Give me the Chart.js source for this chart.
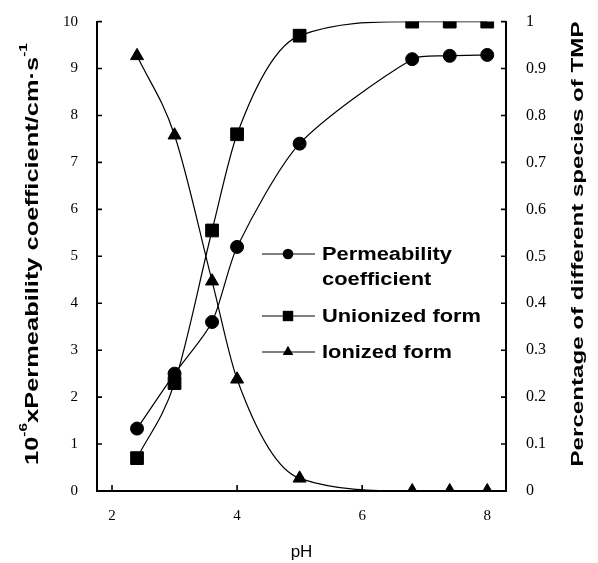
<!DOCTYPE html>
<html>
<head>
<meta charset="utf-8">
<script src="https://cdn.jsdelivr.net/npm/chart.js@4.4.0/dist/chart.umd.min.js"></script>
<style>
  html, body { margin: 0; padding: 0; background: #fff; }
  #wrap { width: 598px; height: 563px; position: relative; }
</style>
</head>
<body>
<div id="wrap"><canvas id="chart"></canvas></div>
<script>
const pH = [2.4, 3.0, 3.6, 4.0, 5.0, 6.8, 7.4, 8.0];
const permeability = [1.33, 2.5, 3.6, 5.2, 7.4, 9.2, 9.27, 9.29];
const unionized = [0.07, 0.23, 0.555, 0.76, 0.97, 1.0, 1.0, 1.0];
const ionized = [0.927, 0.758, 0.447, 0.238, 0.027, 0, 0, 0];
const xTicks = [2, 4, 6, 8];
const legendLabels = [['Permeability', 'coefficient'], ['Unionized form'], ['Ionized form']];
const leftTitle = [['10', false], ['-6', true], ['xPermeability coefficient/cm\u00b7s', false], ['-1', true]];
const rightTitle = [['Percentage of different species of TMP', false]];

const SANS = '"Liberation Sans", Arial, sans-serif';
const SERIF = '"Liberation Serif", "Times New Roman", serif';

function points(ys) {
  return pH.map((x, i) => ({ x: x, y: ys[i] }));
}

// rotated axis title, stretched along its length to fit
function drawRotated(ctx, parts, cx, cy, length, size) {
  const big = `bold ${size}px ${SANS}`;
  const small = `bold ${Math.round(size * 0.62)}px ${SANS}`;
  ctx.save();
  ctx.translate(cx, cy);
  ctx.rotate(-Math.PI / 2);
  let total = 0;
  parts.forEach(([t, sup]) => { ctx.font = sup ? small : big; total += ctx.measureText(t).width; });
  ctx.scale(length / total, 1);
  ctx.textBaseline = 'alphabetic';
  ctx.fillStyle = '#000';
  let px = -total / 2;
  parts.forEach(([t, sup]) => {
    ctx.font = sup ? small : big;
    ctx.fillText(t, px, sup ? -size * 0.3 : size * 0.36);
    px += ctx.measureText(t).width;
  });
  ctx.restore();
}

function marker(ctx, style, x, y, r) {
  ctx.beginPath();
  if (style === 'circle') {
    ctx.arc(x, y, r, 0, Math.PI * 2);
  } else if (style === 'rect') {
    const s = r * Math.SQRT1_2;
    ctx.rect(x - s, y - s, 2 * s, 2 * s);
  } else {
    ctx.moveTo(x, y - r);
    ctx.lineTo(x + r * 0.866, y + r * 0.5);
    ctx.lineTo(x - r * 0.866, y + r * 0.5);
    ctx.closePath();
  }
  ctx.fill();
}

const decorations = {
  id: 'decorations',
  afterDraw(chart) {
    const ctx = chart.ctx;
    const area = chart.chartArea;
    const sx = chart.scales.x, sy = chart.scales.y, sy1 = chart.scales.y1;
    ctx.save();
    ctx.strokeStyle = '#000';
    ctx.fillStyle = '#000';
    ctx.lineWidth = 1.6;

    // inward tick marks
    ctx.beginPath();
    sx.ticks.forEach(t => {
      const p = sx.getPixelForValue(t.value);
      ctx.moveTo(p, area.bottom); ctx.lineTo(p, area.bottom - 6);
    });
    sy.ticks.forEach(t => {
      const p = sy.getPixelForValue(t.value);
      ctx.moveTo(area.left, p); ctx.lineTo(area.left + 5, p);
    });
    sy1.ticks.forEach(t => {
      const p = sy1.getPixelForValue(t.value);
      ctx.moveTo(area.right, p); ctx.lineTo(area.right - 5, p);
    });
    ctx.stroke();

    // axis titles
    drawRotated(ctx, leftTitle, 32, 254, 422, 18);
    drawRotated(ctx, rightTitle, 577, 244, 445, 17);

    // legend inside the plot
    const rows = [254, 316, 352];
    ctx.font = `bold 18px ${SANS}`;
    const stretch = 159 / ctx.measureText('Unionized form').width;
    chart.data.datasets.forEach((ds, i) => {
      const ly = rows[i];
      ctx.lineWidth = 1.2;
      ctx.beginPath();
      ctx.moveTo(262, ly); ctx.lineTo(315, ly);
      ctx.stroke();
      marker(ctx, ds.pointStyle, 288, ly, ds.pointRadius * 0.82);
      legendLabels[i].forEach((line, j) => {
        ctx.save();
        ctx.translate(322, ly + 6 + j * 25);
        ctx.scale(stretch, 1);
        ctx.fillText(line, 0, 0);
        ctx.restore();
      });
    });
    ctx.restore();
  }
};

const lineStyle = {
  borderColor: '#000',
  backgroundColor: '#000',
  pointBackgroundColor: '#000',
  pointBorderColor: '#000',
  borderWidth: 1.2,
  pointBorderWidth: 1,
  cubicInterpolationMode: 'monotone',
  fill: false,
};

new Chart(document.getElementById('chart'), {
  type: 'line',
  data: {
    datasets: [
      { ...lineStyle, label: 'Permeability coefficient', data: points(permeability), yAxisID: 'y', pointStyle: 'circle', pointRadius: 6.5, cubicInterpolationMode: 'default', tension: 0.25 },
      { ...lineStyle, label: 'Unionized form', data: points(unionized), yAxisID: 'y1', pointStyle: 'rect', pointRadius: 9 },
      { ...lineStyle, label: 'Ionized form', data: points(ionized), yAxisID: 'y1', pointStyle: 'triangle', pointRadius: 7.5 },
    ],
  },
  options: {
    responsive: true,
    maintainAspectRatio: false,
    animation: false,
    layout: { padding: { top: 19, left: 0, right: 0, bottom: 0 } },
    plugins: {
      legend: { display: false },
      tooltip: { enabled: false },
    },
    scales: {
      x: {
        type: 'linear',
        min: 1.76,
        max: 8.3,
        afterBuildTicks: (scale) => { scale.ticks = xTicks.map(v => ({ value: v })); },
        afterFit: (scale) => { scale.height = 72; },
        grid: { display: false },
        border: { display: true, color: '#000', width: 2 },
        ticks: { color: '#000', padding: 8, font: { family: SERIF, size: 15 } },
        title: { display: true, text: 'pH', color: '#000', font: { family: SANS, size: 17 }, padding: { top: 0, bottom: 0 } },
      },
      y: {
        position: 'left',
        min: 0,
        max: 10,
        ticks: { stepSize: 1, color: '#000', padding: 11, font: { family: SERIF, size: 15 } },
        afterFit: (scale) => { scale.width = 97; },
        grid: { display: false },
        border: { display: true, color: '#000', width: 2 },
      },
      y1: {
        position: 'right',
        min: 0,
        max: 1,
        ticks: {
          stepSize: 0.1, color: '#000', padding: 12, font: { family: SERIF, size: 16 },
          callback: (v) => String(Number(v.toFixed(1))),
        },
        afterFit: (scale) => { scale.width = 92; },
        grid: { display: false },
        border: { display: true, color: '#000', width: 2 },
      },
    },
  },
  plugins: [decorations],
});
</script>
</body>
</html>
